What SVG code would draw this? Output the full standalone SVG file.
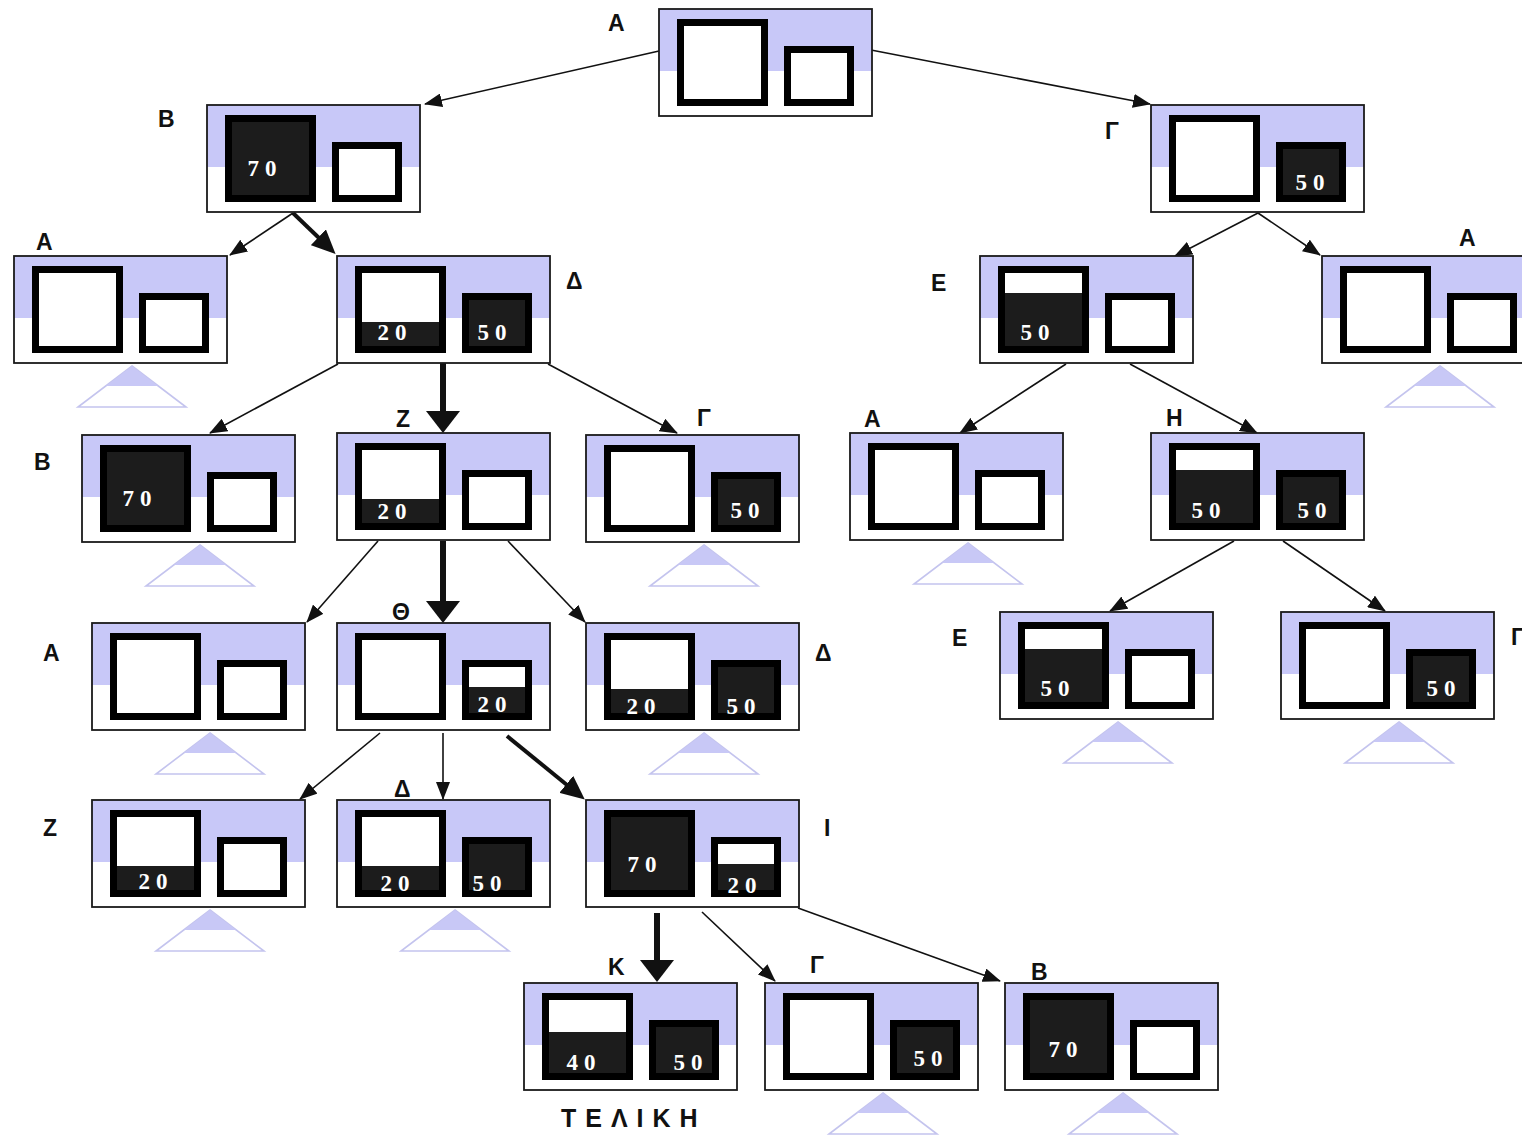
<svg xmlns="http://www.w3.org/2000/svg" width="1522" height="1135" viewBox="0 0 1522 1135">
  <style>
    .body { fill: #ffffff; }
    .band { fill: #c8c8f8; }
    .edge { fill: none; stroke: #1a1a1a; stroke-width: 1.8; }
    .wall { fill: #000000; }
    .air { fill: #ffffff; }
    .water { fill: #1c1c1c; }
    .qty { font-family: "Liberation Serif", "DejaVu Serif", serif; font-weight: bold; font-size: 23px; fill: #ffffff; letter-spacing: 6px; text-anchor: middle; }
    .name { font-family: "Liberation Sans", "DejaVu Sans", sans-serif; font-weight: bold; font-size: 23px; fill: #111111; }
    .final { font-family: "Liberation Sans", "DejaVu Sans", sans-serif; font-weight: bold; font-size: 25px; fill: #111111; letter-spacing: 9px; }
    .leaf-out { fill: #ffffff; stroke: #c4c4ee; stroke-width: 1.6; }
    .leaf-top { fill: #c8c8f6; }
    .link { fill: none; stroke: #111111; stroke-width: 1.6; }
    .link-mid { fill: none; stroke: #111111; stroke-width: 4; }
    .link-bold { fill: none; stroke: #111111; stroke-width: 6; }
  </style>
  <defs>
    <marker id="ah" markerUnits="userSpaceOnUse" markerWidth="18" markerHeight="14" refX="17" refY="7" orient="auto">
      <path d="M0,0 L18,7 L0,14 z" fill="#111111"/>
    </marker>
    <marker id="ah-mid" markerUnits="userSpaceOnUse" markerWidth="24" markerHeight="22" refX="1" refY="11" orient="auto">
      <path d="M0,0 L24,11 L0,22 z" fill="#111111"/>
    </marker>
    <marker id="ah-bold" markerUnits="userSpaceOnUse" markerWidth="22" markerHeight="34" refX="1" refY="17" orient="auto">
      <path d="M0,0 L22,17 L0,34 z" fill="#111111"/>
    </marker>

    <!-- node card: white body, lavender upper band, thin outline -->
    <g id="frame">
      <rect class="body" width="213" height="107"/>
      <rect class="band" width="213" height="62"/>
      <rect class="edge" width="213" height="107"/>
    </g>

    <!-- large jug (capacity 70) -->
    <g id="big0">
      <rect class="wall" x="18" y="10" width="91" height="87"/>
      <rect class="air" x="25" y="17" width="77" height="73"/>
    </g>
    <g id="big70">
      <rect class="wall" x="18" y="10" width="91" height="87"/>
      <rect class="water" x="25" y="17" width="77" height="73"/>
    </g>
    <g id="big20">
      <rect class="wall" x="18" y="10" width="91" height="87"/>
      <rect class="water" x="25" y="17" width="77" height="73"/>
      <rect class="air" x="25" y="17" width="77" height="49"/>
    </g>
    <g id="big40">
      <rect class="wall" x="18" y="10" width="91" height="87"/>
      <rect class="water" x="25" y="17" width="77" height="73"/>
      <rect class="air" x="25" y="17" width="77" height="32"/>
    </g>
    <g id="big50">
      <rect class="wall" x="18" y="10" width="91" height="87"/>
      <rect class="water" x="25" y="17" width="77" height="73"/>
      <rect class="air" x="25" y="17" width="77" height="20"/>
    </g>

    <!-- small jug (capacity 50) -->
    <g id="small0">
      <rect class="wall" x="125" y="37" width="70" height="60"/>
      <rect class="air" x="132" y="44" width="56" height="46"/>
    </g>
    <g id="small50">
      <rect class="wall" x="125" y="37" width="70" height="60"/>
      <rect class="water" x="132" y="44" width="56" height="46"/>
    </g>
    <g id="small20">
      <rect class="wall" x="125" y="37" width="70" height="60"/>
      <rect class="water" x="132" y="44" width="56" height="46"/>
      <rect class="air" x="132" y="44" width="56" height="20"/>
    </g>

    <!-- marker under a node that is not expanded further -->
    <g id="leaf">
      <polygon class="leaf-out" points="118,110 172,151 64,151"/>
      <polygon class="leaf-top" points="118,110 144,130 92,130"/>
    </g>
  </defs>

  <!-- connectors -->
  <g id="connectors">
    <path class="link" d="M659,51 L425,104" marker-end="url(#ah)"/>
    <path class="link" d="M871,50 L1150,104" marker-end="url(#ah)"/>
    <path class="link" d="M293,213 L230,255" marker-end="url(#ah)"/>
    <path class="link-mid" d="M293,213 L319,238" marker-end="url(#ah-mid)"/>
    <path class="link" d="M1258,213 L1175,256" marker-end="url(#ah)"/>
    <path class="link" d="M1258,213 L1320,255" marker-end="url(#ah)"/>
    <path class="link" d="M338,364 L210,433" marker-end="url(#ah)"/>
    <path class="link-bold" d="M443,363 L443,412" marker-end="url(#ah-bold)"/>
    <path class="link" d="M548,364 L677,433" marker-end="url(#ah)"/>
    <path class="link" d="M1066,364 L960,433" marker-end="url(#ah)"/>
    <path class="link" d="M1130,364 L1257,433" marker-end="url(#ah)"/>
    <path class="link" d="M378,541 L307,622" marker-end="url(#ah)"/>
    <path class="link-bold" d="M443,541 L443,602" marker-end="url(#ah-bold)"/>
    <path class="link" d="M508,541 L585,622" marker-end="url(#ah)"/>
    <path class="link" d="M1234,541 L1110,611" marker-end="url(#ah)"/>
    <path class="link" d="M1283,541 L1385,611" marker-end="url(#ah)"/>
    <path class="link" d="M380,733 L300,799" marker-end="url(#ah)"/>
    <path class="link" d="M443,733 L443,799" marker-end="url(#ah)"/>
    <path class="link-mid" d="M507,736 L567,785" marker-end="url(#ah-mid)"/>
    <path class="link-bold" d="M657,913 L657,961" marker-end="url(#ah-bold)"/>
    <path class="link" d="M702,912 L775,981" marker-end="url(#ah)"/>
    <path class="link" d="M798,908 L1000,981" marker-end="url(#ah)"/>
  </g>

  <!-- states (large jug, small jug) -->
  <g id="node-a-root">
    <text class="name" x="608" y="31">Α</text>
    <g transform="translate(659,9)">
      <use href="#frame"/><use href="#big0"/><use href="#small0"/>
    </g>
  </g>

  <g id="node-b-1">
    <text class="name" x="158" y="127">Β</text>
    <g transform="translate(207,105)">
      <use href="#frame"/><use href="#big70"/><use href="#small0"/>
      <text class="qty" x="58" y="71">70</text>
    </g>
  </g>

  <g id="node-g-1">
    <text class="name" x="1105" y="139">Γ</text>
    <g transform="translate(1151,105)">
      <use href="#frame"/><use href="#big0"/><use href="#small50"/>
      <text class="qty" x="162" y="85">50</text>
    </g>
  </g>

  <g id="node-a-2">
    <text class="name" x="36" y="250">Α</text>
    <g transform="translate(14,256)">
      <use href="#frame"/><use href="#big0"/><use href="#small0"/><use href="#leaf"/>
    </g>
  </g>

  <g id="node-d-1">
    <text class="name" x="566" y="289">Δ</text>
    <g transform="translate(337,256)">
      <use href="#frame"/><use href="#big20"/><use href="#small50"/>
      <text class="qty" x="58" y="84">20</text>
      <text class="qty" x="158" y="84">50</text>
    </g>
  </g>

  <g id="node-e-1">
    <text class="name" x="931" y="291">Ε</text>
    <g transform="translate(980,256)">
      <use href="#frame"/><use href="#big50"/><use href="#small0"/>
      <text class="qty" x="58" y="84">50</text>
    </g>
  </g>

  <g id="node-a-3">
    <text class="name" x="1459" y="246">Α</text>
    <g transform="translate(1322,256)">
      <use href="#frame"/><use href="#big0"/><use href="#small0"/><use href="#leaf"/>
    </g>
  </g>

  <g id="node-b-2">
    <text class="name" x="34" y="470">Β</text>
    <g transform="translate(82,435)">
      <use href="#frame"/><use href="#big70"/><use href="#small0"/><use href="#leaf"/>
      <text class="qty" x="58" y="71">70</text>
    </g>
  </g>

  <g id="node-z-1">
    <text class="name" x="396" y="427">Ζ</text>
    <g transform="translate(337,433)">
      <use href="#frame"/><use href="#big20"/><use href="#small0"/>
      <text class="qty" x="58" y="86">20</text>
    </g>
  </g>

  <g id="node-g-2">
    <text class="name" x="697" y="426">Γ</text>
    <g transform="translate(586,435)">
      <use href="#frame"/><use href="#big0"/><use href="#small50"/><use href="#leaf"/>
      <text class="qty" x="162" y="83">50</text>
    </g>
  </g>

  <g id="node-a-4">
    <text class="name" x="864" y="427">Α</text>
    <g transform="translate(850,433)">
      <use href="#frame"/><use href="#big0"/><use href="#small0"/><use href="#leaf"/>
    </g>
  </g>

  <g id="node-h-1">
    <text class="name" x="1166" y="426">Η</text>
    <g transform="translate(1151,433)">
      <use href="#frame"/><use href="#big50"/><use href="#small50"/>
      <text class="qty" x="58" y="85">50</text>
      <text class="qty" x="164" y="85">50</text>
    </g>
  </g>

  <g id="node-a-5">
    <text class="name" x="43" y="661">Α</text>
    <g transform="translate(92,623)">
      <use href="#frame"/><use href="#big0"/><use href="#small0"/><use href="#leaf"/>
    </g>
  </g>

  <g id="node-th-1">
    <text class="name" x="392" y="620">Θ</text>
    <g transform="translate(337,623)">
      <use href="#frame"/><use href="#big0"/><use href="#small20"/>
      <text class="qty" x="158" y="89">20</text>
    </g>
  </g>

  <g id="node-d-2">
    <text class="name" x="815" y="661">Δ</text>
    <g transform="translate(586,623)">
      <use href="#frame"/><use href="#big20"/><use href="#small50"/><use href="#leaf"/>
      <text class="qty" x="58" y="91">20</text>
      <text class="qty" x="158" y="91">50</text>
    </g>
  </g>

  <g id="node-e-2">
    <text class="name" x="952" y="646">Ε</text>
    <g transform="translate(1000,612)">
      <use href="#frame"/><use href="#big50"/><use href="#small0"/><use href="#leaf"/>
      <text class="qty" x="58" y="84">50</text>
    </g>
  </g>

  <g id="node-g-3">
    <text class="name" x="1511" y="645">Γ</text>
    <g transform="translate(1281,612)">
      <use href="#frame"/><use href="#big0"/><use href="#small50"/><use href="#leaf"/>
      <text class="qty" x="163" y="84">50</text>
    </g>
  </g>

  <g id="node-z-2">
    <text class="name" x="43" y="836">Ζ</text>
    <g transform="translate(92,800)">
      <use href="#frame"/><use href="#big20"/><use href="#small0"/><use href="#leaf"/>
      <text class="qty" x="64" y="89">20</text>
    </g>
  </g>

  <g id="node-d-3">
    <text class="name" x="394" y="797">Δ</text>
    <g transform="translate(337,800)">
      <use href="#frame"/><use href="#big20"/><use href="#small50"/><use href="#leaf"/>
      <text class="qty" x="61" y="91">20</text>
      <text class="qty" x="153" y="91">50</text>
    </g>
  </g>

  <g id="node-i-1">
    <text class="name" x="824" y="836">Ι</text>
    <g transform="translate(586,800)">
      <use href="#frame"/><use href="#big70"/><use href="#small20"/>
      <text class="qty" x="59" y="72">70</text>
      <text class="qty" x="159" y="93">20</text>
    </g>
  </g>

  <g id="node-k-1">
    <text class="name" x="608" y="975">Κ</text>
    <g transform="translate(524,983)">
      <use href="#frame"/><use href="#big40"/><use href="#small50"/>
      <text class="qty" x="60" y="87">40</text>
      <text class="qty" x="167" y="87">50</text>
    </g>
    <text class="final" x="561" y="1127">ΤΕΛΙΚΗ</text>
  </g>

  <g id="node-g-4">
    <text class="name" x="810" y="973">Γ</text>
    <g transform="translate(765,983)">
      <use href="#frame"/><use href="#big0"/><use href="#small50"/><use href="#leaf"/>
      <text class="qty" x="166" y="83">50</text>
    </g>
  </g>

  <g id="node-b-3">
    <text class="name" x="1031" y="980">Β</text>
    <g transform="translate(1005,983)">
      <use href="#frame"/><use href="#big70"/><use href="#small0"/><use href="#leaf"/>
      <text class="qty" x="61" y="74">70</text>
    </g>
  </g>
</svg>
